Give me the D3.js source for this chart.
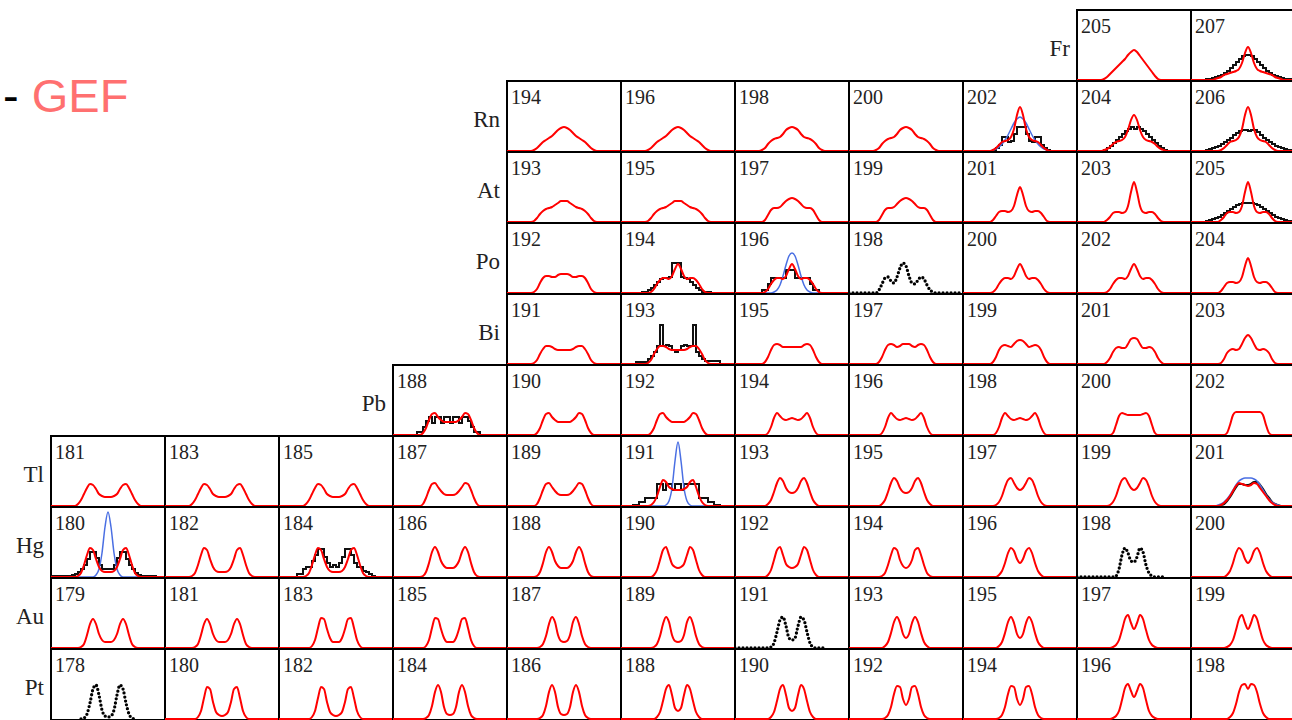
<!DOCTYPE html>
<html>
<head>
<meta charset="utf-8">
<script src="https://cdn.jsdelivr.net/npm/d3@7"></script>
<style>
  body { margin: 0; background: #fff; }
  svg { display: block; }
</style>
</head>
<body>
<svg id="chart" width="1292" height="720"></svg>
<script>
// rows (proton number) and columns (neutron number) of the chart
const elements = ["Fr", "Rn", "At", "Po", "Bi", "Pb", "Tl", "Hg", "Au", "Pt"];
const protonZ = [87, 86, 85, 84, 83, 82, 81, 80, 79, 78];
const neutronN = [100, 102, 104, 106, 108, 110, 112, 114, 116, 118, 120];

// fragment mass relative to A/2, common grid of the GEF yields
const dA = [-36, -33, -30, -27, -24, -21, -18, -15, -12, -9, -6, -3, 0, 3, 6, 9, 12, 15, 18, 21, 24, 27, 30, 33, 36];

// GEF mass yields (arb. units)
const frA  = [0, 0, 1, 3, 6, 9, 12, 15, 18, 21, 25, 28, 30, 28, 24, 20, 16, 12, 8, 4, 1, 0, 0, 0, 0];
const spkB = [0, 1, 2, 3, 5, 6, 7, 8, 9, 11, 17, 27, 33, 27, 17, 11, 9, 8, 7, 6, 5, 3, 2, 1, 0];
const rnA  = [0, 0, 1, 3, 6, 9, 11, 13, 15, 18, 21, 23, 24, 23, 21, 18, 15, 13, 11, 9, 6, 3, 1, 0, 0];
const rnB  = [0, 0, 1, 3, 7, 10, 12, 13, 14, 17, 21, 23, 24, 23, 21, 17, 14, 13, 12, 10, 7, 3, 1, 0, 0];
const rnC  = [0, 0, 0, 1, 3, 6, 9, 10, 11, 14, 22, 36, 44, 36, 22, 14, 11, 10, 9, 6, 3, 1, 0, 0, 0];
const spkC = [0, 0, 1, 2, 4, 7, 9, 10, 11, 14, 21, 31, 36, 31, 21, 14, 11, 10, 9, 7, 4, 2, 1, 0, 0];
const atA  = [0, 0, 1, 4, 8, 11, 13, 14, 15, 17, 19, 21, 21, 21, 19, 17, 15, 14, 13, 11, 8, 4, 1, 0, 0];
const atB  = [0, 0, 0, 2, 7, 12, 14, 14, 15, 18, 21, 23, 24, 23, 21, 18, 15, 14, 14, 12, 7, 2, 0, 0, 0];
const spkA = [0, 0, 0, 2, 6, 10, 11, 11, 10, 11, 16, 27, 35, 27, 16, 11, 10, 11, 11, 9, 5, 1, 0, 0, 0];
const spkD = [0, 0, 0, 2, 5, 9, 10, 10, 9, 10, 16, 30, 40, 30, 16, 10, 9, 10, 10, 8, 4, 1, 0, 0, 0];
const spkE = [0, 0, 0, 1, 4, 9, 13, 15, 15, 14, 17, 24, 29, 24, 17, 14, 15, 15, 13, 9, 4, 1, 0, 0, 0];
const poA  = [0, 0, 1, 4, 10, 15, 17, 17, 16, 16, 18, 19, 19, 19, 18, 16, 16, 17, 17, 15, 10, 4, 1, 0, 0];
const biA  = [0, 0, 1, 4, 10, 15, 18, 18, 17, 15, 14, 14, 14, 14, 14, 15, 17, 18, 18, 15, 10, 4, 1, 0, 0];
const biB  = [0, 0, 0, 2, 7, 14, 19, 20, 19, 17, 17, 17, 17, 17, 17, 17, 19, 20, 19, 14, 7, 2, 0, 0, 0];
const biC  = [0, 0, 0, 2, 7, 14, 19, 20, 19, 17, 18, 20, 20, 20, 18, 17, 19, 20, 19, 14, 7, 2, 0, 0, 0];
const biD  = [0, 0, 0, 2, 7, 14, 18, 19, 18, 17, 20, 23, 24, 23, 20, 17, 18, 19, 18, 14, 7, 2, 0, 0, 0];
const biE  = [0, 0, 0, 2, 6, 12, 16, 17, 16, 16, 20, 25, 26, 25, 20, 16, 16, 17, 16, 12, 6, 2, 0, 0, 0];
const biF  = [0, 0, 0, 1, 5, 11, 14, 15, 14, 15, 20, 26, 29, 26, 20, 15, 14, 15, 14, 11, 5, 1, 0, 0, 0];
const pbA  = [0, 0, 0, 2, 7, 15, 21, 22, 18, 15, 13, 13, 13, 13, 13, 15, 18, 22, 21, 15, 7, 2, 0, 0, 0];
const pbB  = [0, 0, 0, 0, 2, 8, 17, 22, 19, 16, 15, 16, 17, 16, 15, 16, 19, 22, 17, 8, 2, 0, 0, 0, 0];
const pbC  = [0, 0, 0, 0, 0, 2, 10, 19, 22, 21, 20, 20, 20, 20, 20, 21, 22, 19, 10, 2, 0, 0, 0, 0, 0];
const pbD  = [0, 0, 0, 0, 0, 2, 10, 20, 23, 23, 23, 23, 23, 23, 23, 23, 23, 20, 10, 2, 0, 0, 0, 0, 0];
const tlA  = [0, 0, 2, 6, 12, 18, 22, 21, 17, 12, 10, 9, 9, 9, 10, 12, 17, 21, 22, 18, 12, 6, 2, 0, 0];
const tlB  = [0, 0, 0, 2, 8, 16, 22, 23, 19, 15, 12, 11, 11, 11, 12, 15, 19, 23, 22, 16, 8, 2, 0, 0, 0];
const tlC  = [0, 0, 0, 1, 4, 10, 19, 26, 24, 19, 17, 16, 16, 16, 17, 19, 24, 26, 19, 10, 4, 1, 0, 0, 0];
const tlD  = [0, 0, 0, 0, 2, 6, 14, 23, 28, 25, 18, 14, 13, 14, 18, 25, 28, 23, 14, 6, 2, 0, 0, 0, 0];
const tlE  = [0, 0, 0, 0, 1, 4, 10, 19, 26, 28, 23, 18, 16, 18, 23, 28, 26, 19, 10, 4, 1, 0, 0, 0, 0];
const tlF  = [0, 0, 0, 1, 3, 6, 10, 15, 20, 23, 22, 21, 20, 21, 23, 22, 18, 14, 10, 6, 3, 1, 0, 0, 0];
const hgA  = [0, 0, 1, 4, 12, 22, 29, 27, 18, 10, 6, 5, 5, 5, 6, 10, 18, 27, 29, 22, 12, 4, 1, 0, 0];
const hgB  = [0, 0, 0, 1, 5, 14, 25, 30, 25, 16, 11, 9, 9, 9, 11, 16, 25, 30, 25, 14, 5, 1, 0, 0, 0];
const hgC  = [0, 0, 0, 0, 2, 7, 17, 27, 30, 22, 13, 10, 9, 10, 13, 22, 30, 27, 17, 7, 2, 0, 0, 0, 0];
const hgD  = [0, 0, 0, 0, 1, 4, 12, 22, 29, 27, 17, 11, 9, 11, 17, 27, 29, 22, 12, 4, 1, 0, 0, 0, 0];
const hgE  = [0, 0, 0, 0, 0, 2, 6, 14, 24, 29, 26, 18, 14, 18, 26, 29, 24, 14, 6, 2, 0, 0, 0, 0, 0];
const auA  = [0, 0, 0, 1, 4, 13, 24, 29, 24, 14, 8, 6, 6, 6, 8, 14, 24, 29, 24, 13, 4, 1, 0, 0, 0];
const auB  = [0, 0, 0, 0, 2, 8, 20, 30, 29, 19, 10, 6, 6, 6, 10, 19, 29, 30, 20, 8, 2, 0, 0, 0, 0];
const auC  = [0, 0, 0, 0, 1, 4, 12, 24, 31, 26, 13, 7, 6, 7, 13, 26, 31, 24, 12, 4, 1, 0, 0, 0, 0];
const auD  = [0, 0, 0, 0, 0, 2, 6, 15, 26, 31, 25, 14, 10, 14, 25, 31, 26, 15, 6, 2, 0, 0, 0, 0, 0];
const auE  = [0, 0, 0, 0, 0, 1, 3, 8, 18, 29, 33, 25, 19, 25, 33, 29, 18, 8, 3, 1, 0, 0, 0, 0, 0];
const ptA  = [0, 0, 0, 0, 2, 8, 21, 32, 30, 17, 7, 4, 3, 4, 7, 17, 30, 32, 21, 8, 2, 0, 0, 0, 0];
const ptB  = [0, 0, 0, 0, 1, 4, 13, 27, 34, 27, 12, 5, 4, 5, 12, 27, 34, 27, 13, 4, 1, 0, 0, 0, 0];
const ptC  = [0, 0, 0, 0, 0, 2, 7, 18, 30, 34, 24, 11, 8, 11, 24, 34, 30, 18, 7, 2, 0, 0, 0, 0, 0];
const ptD  = [0, 0, 0, 0, 0, 1, 4, 12, 25, 33, 32, 20, 14, 20, 32, 33, 25, 12, 4, 1, 0, 0, 0, 0, 0];
const ptE  = [0, 0, 0, 0, 0, 1, 3, 8, 19, 31, 35, 28, 22, 28, 35, 31, 19, 8, 3, 1, 0, 0, 0, 0, 0];
const ptF  = [0, 0, 0, 0, 0, 0, 2, 6, 15, 27, 34, 35, 30, 35, 34, 27, 15, 6, 2, 0, 0, 0, 0, 0, 0];

// nuclei per row and which GEF profile each panel shows (null: no GEF curve)
const massFr = [205, 207];
const gefFr = [frA, spkB];
const massRn = [194, 196, 198, 200, 202, 204, 206];
const gefRn = [rnA, rnA, rnB, rnB, rnC, spkC, rnC];
const massAt = [193, 195, 197, 199, 201, 203, 205];
const gefAt = [atA, atA, atB, atB, spkA, spkD, spkD];
const massPo = [192, 194, 196, 198, 200, 202, 204];
const gefPo = [poA, spkE, spkE, null, spkE, spkE, spkA];
const massBi = [191, 193, 195, 197, 199, 201, 203];
const gefBi = [biA, biA, biB, biC, biD, biE, biF];
const massPb = [188, 190, 192, 194, 196, 198, 200, 202];
const gefPb = [pbA, pbA, pbA, pbB, pbB, pbB, pbC, pbD];
const massTl = [181, 183, 185, 187, 189, 191, 193, 195, 197, 199, 201];
const gefTl = [tlA, tlA, tlA, tlB, tlB, tlC, tlD, tlD, tlE, tlE, tlF];
const massHg = [180, 182, 184, 186, 188, 190, 192, 194, 196, 198, 200];
const gefHg = [hgA, hgA, hgA, hgB, hgB, hgC, hgC, hgD, hgE, null, hgE];
const massAu = [179, 181, 183, 185, 187, 189, 191, 193, 195, 197, 199];
const gefAu = [auA, auA, auB, auB, auC, auC, null, auD, auD, auE, auE];
const massPt = [178, 180, 182, 184, 186, 188, 190, 192, 194, 196, 198];
const gefPt = [null, ptA, ptA, ptB, ptB, ptC, ptC, ptD, ptD, ptE, ptF];

// experimental histograms (3-unit bins), first bin and counts
const expFr207 = [1, 1, 2, 3, 4, 5, 7, 9, 12, 15, 18, 21, 24, 25, 25, 24, 21, 18, 15, 12, 9, 7, 5, 4, 3, 2, 1, 1, 1];
const expRn202 = [1, 3, 6, 14, 14, 9, 10, 17, 24, 24, 24, 17, 10, 9, 14, 14, 6, 3, 1];
const expRn204 = [1, 3, 5, 8, 11, 14, 17, 20, 22, 24, 22, 24, 22, 20, 17, 14, 11, 8, 5, 3, 1];
const expRn206 = [1, 2, 3, 4, 5, 7, 9, 11, 13, 16, 18, 20, 21, 21, 20, 21, 21, 19, 16, 13, 11, 9, 7, 5, 4, 3, 2, 1, 1, 1, 1];
const expAt205 = [1, 2, 3, 4, 5, 7, 9, 11, 13, 15, 17, 18, 19, 19, 19, 19, 18, 17, 15, 13, 11, 9, 7, 5, 4, 3, 2, 1, 1];
const expPo194 = [1, 1, 3, 5, 8, 11, 14, 15, 15, 16, 30, 30, 30, 16, 15, 14, 11, 8, 5, 3, 1, 1, 1];
const expPo196 = [3, 3, 9, 15, 15, 15, 15, 15, 23, 23, 23, 15, 15, 15, 15, 15, 9, 3, 3];
const expBi193 = [2, 2, 2, 2, 5, 8, 12, 18, 39, 18, 19, 18, 14, 12, 14, 18, 19, 18, 18, 39, 12, 8, 5, 3, 3, 3, 3, 3];
const expPb188 = [3, 3, 8, 14, 18, 12, 18, 18, 12, 18, 18, 12, 18, 18, 12, 18, 18, 14, 8, 3, 3];
const expTl191 = [1, 1, 4, 4, 8, 8, 8, 8, 22, 22, 16, 22, 22, 16, 22, 22, 16, 22, 22, 22, 22, 22, 8, 8, 8, 4, 4, 1, 1];
const expHg180 = [1, 1, 1, 1, 1, 1, 1, 2, 3, 5, 8, 12, 18, 25, 25, 19, 12, 8, 8, 8, 8, 12, 19, 25, 25, 18, 12, 8, 4, 2, 1, 1, 1, 1, 1];
const expHg184 = [3, 3, 8, 10, 10, 16, 22, 28, 28, 20, 14, 10, 12, 10, 14, 20, 28, 28, 22, 14, 10, 10, 6, 5, 3, 1];
const expCells = [
  ["Fr", 207, -42, expFr207], ["Rn", 202, -27, expRn202], ["Rn", 204, -30, expRn204],
  ["Rn", 206, -42, expRn206], ["At", 205, -42, expAt205], ["Po", 194, -36, expPo194],
  ["Po", 196, -30, expPo196], ["Bi", 193, -42, expBi193], ["Pb", 188, -33, expPb188],
  ["Tl", 191, -45, expTl191], ["Hg", 180, -57, expHg180], ["Hg", 184, -39, expHg184],
];

// other calculations (blue) on the dA grid
const blueRn202 = [0, 0, 0, 1, 2, 4, 7, 11, 16, 22, 28, 32, 34, 32, 28, 22, 16, 11, 7, 4, 2, 1, 0, 0, 0];
const bluePo196 = [0, 0, 0, 0, 0, 0, 1, 3, 8, 17, 28, 37, 40, 37, 28, 17, 8, 3, 1, 0, 0, 0, 0, 0, 0];
const blueTl191 = [0, 0, 0, 0, 0, 0, 0, 0, 1, 5, 18, 45, 64, 45, 18, 5, 1, 0, 0, 0, 0, 0, 0, 0, 0];
const blueTl201 = [0, 0, 1, 2, 4, 7, 11, 16, 21, 25, 27, 28, 28, 28, 27, 25, 21, 16, 11, 7, 4, 2, 1, 0, 0];
const blueHg180 = [0, 0, 0, 0, 0, 0, 0, 0, 2, 8, 24, 50, 65, 50, 24, 8, 2, 0, 0, 0, 0, 0, 0, 0, 0];
const blueCells = [["Rn", 202, blueRn202], ["Po", 196, bluePo196], ["Tl", 191, blueTl191], ["Tl", 201, blueTl201], ["Hg", 180, blueHg180]];

// smooth experimental line
const lineTl201 = [0, 0, 0, 1, 2, 5, 9, 14, 19, 22, 22, 21, 21, 22, 24, 24, 21, 17, 12, 8, 4, 2, 1, 0, 0];
const lineCells = [["Tl", 201, lineTl201]];

// dotted experimental distributions (3-unit steps), first point and values
const dotPo198 = [0, 0, 0, 0, 0, 0, 0, 0, 0, 0, 3, 9, 15, 16, 12, 10, 16, 25, 30, 27, 17, 10, 9, 13, 16, 14, 8, 3, 1, 0, 0, 0, 0, 0, 0, 0, 0, 0];
const dotHg198 = [0, 0, 0, 0, 0, 0, 0, 0, 0, 0, 0, 0, 0, 1, 8, 22, 29, 24, 16, 15, 20, 29, 25, 12, 4, 1, 0, 0, 0, 0];
const dotAu191 = [0, 0, 0, 0, 0, 0, 0, 0, 0, 0, 0, 0, 1, 5, 16, 28, 31, 22, 10, 8, 10, 22, 31, 28, 16, 5, 1, 0, 0, 0, 0];
const dotPt178 = [0, 1, 5, 16, 30, 34, 24, 9, 3, 2, 3, 9, 24, 34, 30, 16, 5, 1, 0];
const dotCells = [["Po", 198, -57, dotPo198], ["Hg", 198, -57, dotHg198], ["Au", 191, -57, dotAu191], ["Pt", 178, -27, dotPt178]];

const rowMass = [massFr, massRn, massAt, massPo, massBi, massPb, massTl, massHg, massAu, massPt];
const rowGef = [gefFr, gefRn, gefAt, gefPo, gefBi, gefPb, gefTl, gefHg, gefAu, gefPt];

const svg = d3.select("#chart");

const col = d3.scaleBand().domain(neutronN).range([51, 51 + 114 * neutronN.length]);
const row = d3.scaleBand().domain(protonZ).range([10, 720]);
const cw = col.bandwidth();
const ch = row.bandwidth();
const x = d3.scaleLinear().domain([-57, 57]).range([0, cw]);
const y = d3.scaleLinear().domain([0, 71]).range([ch - 1, ch - 72]);

svg.append("defs").append("clipPath").attr("id", "cell")
  .append("rect").attr("x", 0).attr("y", -1).attr("width", cw).attr("height", ch + 1);

const smooth = d3.line().x((d) => x(d[0])).y((d) => y(d[1])).curve(d3.curveMonotoneX);
const steps = d3.line().x((d) => x(d[0])).y((d) => y(d[1])).curve(d3.curveStepAfter);

const onGrid = (vals) => [[x.domain()[0], 0], ...dA.map((a, i) => [a, vals[i]]), [x.domain()[1], 0]];
const fromStart = (start, vals) => vals.map((v, i) => [start + 3 * i, v]);

// build the list of panels
const cells = [];
elements.forEach((el, r) => {
  rowMass[r].forEach((A, i) => {
    const Z = protonZ[r];
    cells.push({ el, Z, N: A - Z, A, gef: rowGef[r][i], first: i === 0 });
  });
});
const find = (el, A) => cells.find((c) => c.el === el && c.A === A);

// legend (partly cut off at the left)
const legend = svg.append("text")
  .attr("x", 3).attr("y", 112)
  .attr("font-family", "Liberation Sans, Arial, sans-serif")
  .attr("font-size", 47);
legend.append("tspan").attr("fill", "#000").text("- ");
legend.append("tspan").attr("fill", "#ff7070").text("GEF");

const cellG = svg.append("g").selectAll("g")
  .data(cells)
  .join("g")
  .attr("transform", (d) => `translate(${col(d.N)},${row(d.Z)})`);

cellG.append("rect")
  .attr("width", cw).attr("height", ch)
  .attr("fill", "none").attr("stroke", "#000").attr("stroke-width", 2);

cellG.append("text")
  .attr("x", 4).attr("y", 23)
  .attr("font-family", "'Liberation Serif', 'Times New Roman', serif")
  .attr("font-size", 20).attr("fill", "#222")
  .text((d) => d.A);

cellG.filter((d) => d.first).append("text")
  .attr("x", -7).attr("y", 46)
  .attr("text-anchor", "end")
  .attr("font-family", "'Liberation Serif', 'Times New Roman', serif")
  .attr("font-size", 23).attr("fill", "#222")
  .text((d) => d.el);

const plots = cellG.append("g").attr("clip-path", "url(#cell)");

expCells.forEach(([el, A, start, vals]) => {
  const c = find(el, A);
  const pts = [[start, 0], ...fromStart(start, vals), [start + 3 * vals.length, 0]];
  plots.filter((d) => d === c).append("path")
    .attr("d", steps(pts))
    .attr("fill", "none").attr("stroke", "#111").attr("stroke-width", 2);
});

dotCells.forEach(([el, A, start, vals]) => {
  const c = find(el, A);
  plots.filter((d) => d === c).append("path")
    .attr("d", smooth(fromStart(start, vals)))
    .attr("fill", "none").attr("stroke", "#000").attr("stroke-width", 3.3)
    .attr("stroke-linecap", "round").attr("stroke-dasharray", "0 4");
});

lineCells.forEach(([el, A, vals]) => {
  const c = find(el, A);
  plots.filter((d) => d === c).append("path")
    .attr("d", smooth(onGrid(vals)))
    .attr("fill", "none").attr("stroke", "#111").attr("stroke-width", 2.2);
});

blueCells.forEach(([el, A, vals]) => {
  const c = find(el, A);
  plots.filter((d) => d === c).append("path")
    .attr("d", smooth(onGrid(vals)))
    .attr("fill", "none").attr("stroke", "#4a6fe3").attr("stroke-width", 1.5);
});

plots.filter((d) => d.gef).append("path")
  .attr("d", (d) => smooth(onGrid(d.gef)))
  .attr("fill", "none").attr("stroke", "#ff0000").attr("stroke-width", 2);
</script>
</body>
</html>
